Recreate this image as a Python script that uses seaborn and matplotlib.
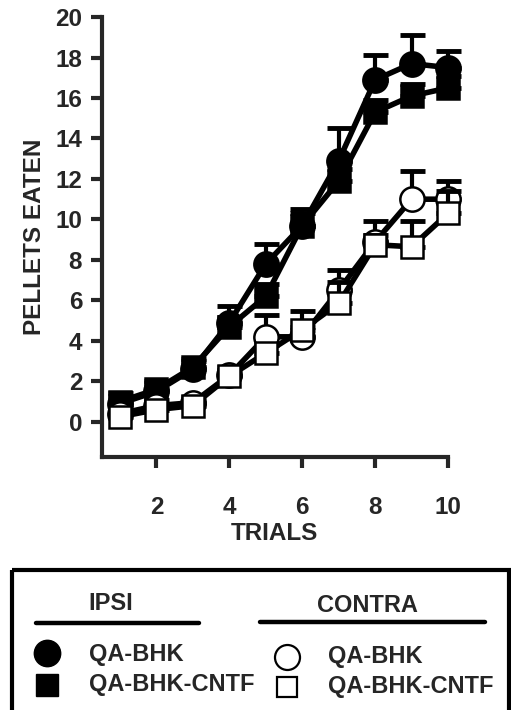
import pandas as pd
import matplotlib.pyplot as plt
import seaborn as sns

# data
trials = [1, 2, 3, 4, 5, 6, 7, 8, 9, 10]
ipsi_bhk = [0.9, 1.5, 2.6, 4.9, 7.8, 9.7, 12.9, 16.9, 17.7, 17.5]
ipsi_bhk_err = [0.4, 0.4, 0.4, 0.8, 1.0, 0.8, 1.6, 1.2, 1.4, 0.8]
ipsi_cntf = [1.0, 1.6, 2.7, 4.7, 6.2, 9.7, 11.9, 15.3, 16.1, 16.5]
ipsi_cntf_err = [0.4, 0.4, 0.4, 0.5, 0.6, 0.6, 0.6, 0.6, 0.6, 0.6]
contra_bhk = [0.4, 0.8, 0.95, 2.3, 4.2, 4.2, 6.5, 8.9, 11.0, 11.0]
contra_bhk_err = [0.3, 0.3, 0.3, 0.4, 1.1, 0.5, 1.0, 1.0, 1.4, 0.9]
contra_cntf = [0.25, 0.6, 0.8, 2.25, 3.4, 4.55, 5.85, 8.75, 8.65, 10.3]
contra_cntf_err = [0.2, 0.2, 0.2, 0.3, 0.4, 0.95, 1.05, 0.5, 1.25, 1.1]

groups = ["IPSI QA-BHK", "IPSI QA-BHK-CNTF", "CONTRA QA-BHK", "CONTRA QA-BHK-CNTF"]
values = [ipsi_bhk, ipsi_cntf, contra_bhk, contra_cntf]
errors = [ipsi_bhk_err, ipsi_cntf_err, contra_bhk_err, contra_cntf_err]
markers = ["o", "s", "o", "s"]
faces = ["black", "black", "white", "white"]

sns.set_style("ticks")
plt.rcParams["font.family"] = ["Liberation Sans", "DejaVu Sans"]
plt.rcParams["font.weight"] = "bold"

rows = []
for g, vals, errs in zip(groups, values, errors):
    for t, v, e in zip(trials, vals, errs):
        rows.append({"group": g, "trial": t, "pellets": v, "err": e})
df = pd.DataFrame(rows)

fig = plt.figure(figsize=(5.11, 7.10), dpi=100)
ax = fig.add_axes([0.199, 0.356, 0.678, 0.620])

for i, (g, m, fc) in enumerate(zip(groups, markers, faces)):
    sub = df[df["group"] == g]
    eb = ax.errorbar(sub["trial"], sub["pellets"],
                     yerr=[[0] * len(sub), sub["err"]],
                     fmt="none", ecolor="black", elinewidth=3,
                     capsize=9, capthick=3.5, zorder=2 + i)
    for art in eb.get_children():
        art.set_clip_on(False)
    ms = 17.5 if m == "o" else 16
    n_before = len(ax.lines)
    sns.lineplot(data=sub, x="trial", y="pellets", ax=ax, color="black",
                 linewidth=4, marker=m, markersize=ms,
                 markerfacecolor=fc, markeredgecolor="black",
                 markeredgewidth=1.8, errorbar=None, zorder=2.5 + i)
    for ln in ax.lines[n_before:]:
        ln.set_clip_on(False)

ax.set_xlim(0.5, 10)
ax.set_ylim(-1.75, 20)
ax.set_xticks([2, 4, 6, 8, 10])
ax.set_yticks(range(0, 21, 2))
ax.spines["top"].set_visible(False)
ax.spines["right"].set_visible(False)
for s in ["left", "bottom"]:
    ax.spines[s].set_linewidth(3)
ax.tick_params(axis="both", width=3, length=8, labelsize=17.5)
ax.tick_params(axis="x", pad=20)
ax.tick_params(axis="y", pad=6)
for lbl in ax.get_xticklabels() + ax.get_yticklabels():
    lbl.set_fontweight("bold")
ax.set_xlabel("TRIALS", fontsize=17.5, fontweight="bold", labelpad=2)
ax.set_ylabel("PELLETS EATEN", fontsize=17.5, fontweight="bold", labelpad=7)

# legend box drawn in figure pixel coordinates
lg = fig.add_axes([0, 0, 1, 1], facecolor="none")
lg.set_xlim(0, 511)
lg.set_ylim(710, 0)
lg.axis("off")
lg.add_patch(plt.Rectangle((12, 570), 497, 150, fill=False,
                           linewidth=3, edgecolor="black"))
lg.text(111, 604, "IPSI", ha="center", va="center", fontsize=17, fontweight="bold")
lg.text(367, 606, "CONTRA", ha="center", va="center", fontsize=17, fontweight="bold")
lg.plot([36, 199], [623, 623], color="black", linewidth=3.2, solid_capstyle="round")
lg.plot([260, 485], [622, 622], color="black", linewidth=3.2, solid_capstyle="round")
lg.plot([47], [653], marker="o", markersize=19, color="black")
lg.plot([47], [685], marker="s", markersize=16, color="black")
lg.plot([287], [657], marker="o", markersize=18, markerfacecolor="white",
        markeredgecolor="black", markeredgewidth=1.6)
lg.plot([287], [687], marker="s", markersize=14, markerfacecolor="white",
        markeredgecolor="black", markeredgewidth=1.6)
lg.text(89, 654, "QA-BHK", ha="left", va="center", fontsize=17, fontweight="bold")
lg.text(89, 685, "QA-BHK-CNTF", ha="left", va="center", fontsize=17, fontweight="bold")
lg.text(328, 657, "QA-BHK", ha="left", va="center", fontsize=17, fontweight="bold")
lg.text(328, 687, "QA-BHK-CNTF", ha="left", va="center", fontsize=17, fontweight="bold")

fig.savefig("out.png", dpi=100)
